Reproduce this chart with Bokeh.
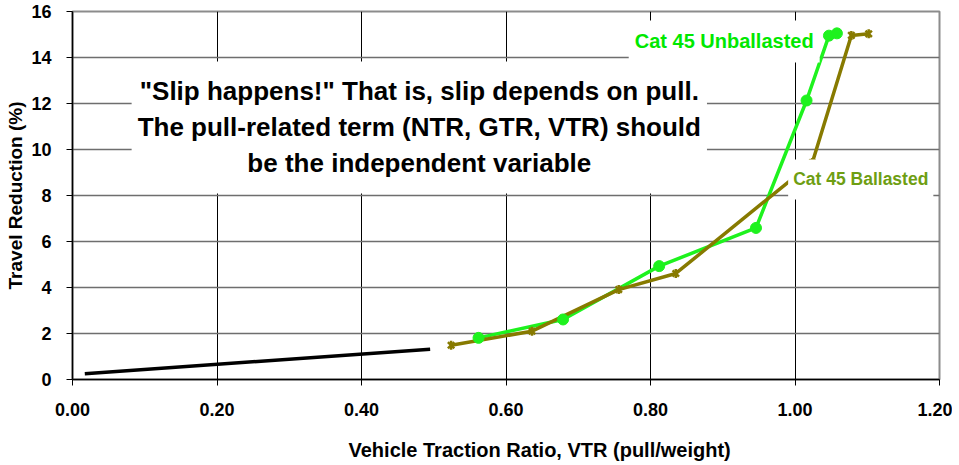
from bokeh.plotting import figure
from bokeh.models import Label, FixedTicker, NumeralTickFormatter, Range1d, Title
from bokeh.embed import file_html
from bokeh.resources import INLINE

# ---- data ----
unb_vtr = [0.562, 0.679, 0.812, 0.946, 1.016, 1.047, 1.058]
unb_tr = [1.81, 2.61, 4.93, 6.59, 12.13, 14.95, 15.05]
bal_vtr = [0.524, 0.636, 0.756, 0.835, 1.024, 1.078, 1.102]
bal_tr = [1.49, 2.10, 3.91, 4.61, 9.43, 14.96, 15.03]
ref_vtr = [0.017, 0.495]
ref_tr = [0.25, 1.32]
x_ticks = [0.0, 0.2, 0.4, 0.6, 0.8, 1.0, 1.2]
y_ticks = [0, 2, 4, 6, 8, 10, 12, 14, 16]

FONT = "Liberation Sans"
GREEN = "#1EF21E"
OLIVE = "#877A00"
OLIVE_TXT = "#6E9E12"

p = figure(width=952, height=462, output_backend="svg", toolbar_location=None,
           x_range=Range1d(0, 1.2), y_range=Range1d(0, 16),
           min_border_left=72, min_border_right=13, min_border_top=11,
           min_border_bottom=83)
p.background_fill_color = "white"
p.border_fill_color = "white"
p.outline_line_color = "#8C8C8C"
p.outline_line_width = 2

p.xaxis.ticker = FixedTicker(ticks=x_ticks)
p.yaxis.ticker = FixedTicker(ticks=y_ticks)
p.xaxis.formatter = NumeralTickFormatter(format="0.00")
for ax in (p.xaxis, p.yaxis):
    ax.axis_line_color = "black"
    ax.axis_line_width = 1.5
    ax.major_tick_line_color = "black"
    ax.major_tick_out = 6
    ax.major_tick_in = 0
    ax.minor_tick_line_color = None
    ax.major_label_text_font = FONT
    ax.major_label_text_font_style = "bold"
    ax.major_label_text_font_size = "18px"
    ax.major_label_text_color = "black"
    ax.axis_label_text_font = FONT
    ax.axis_label_text_font_style = "bold"
    ax.axis_label_text_font_size = "19px"
    ax.axis_label_text_color = "black"
p.yaxis.major_label_standoff = 15
p.xaxis.major_label_standoff = 17
p.yaxis.axis_label = "Travel Reduction (%)"
p.yaxis.axis_label_standoff = 2

p.xgrid.ticker = FixedTicker(ticks=x_ticks)
p.ygrid.ticker = FixedTicker(ticks=y_ticks)
p.xgrid.grid_line_color = "black"
p.xgrid.grid_line_width = 1
p.ygrid.grid_line_color = "#6E6E6E"
p.ygrid.grid_line_width = 1.5

# lines
p.line(ref_vtr, ref_tr, line_color="black", line_width=3.5)
p.line(unb_vtr, unb_tr, line_color=GREEN, line_width=3.5)
p.line(bal_vtr, bal_tr, line_color=OLIVE, line_width=3.5)
# markers
p.scatter(unb_vtr, unb_tr, marker="circle", size=11, fill_color=GREEN,
          line_color=GREEN)
p.scatter(bal_vtr, bal_tr, marker="x", size=9, line_color=OLIVE, line_width=2.5)
p.scatter(bal_vtr, bal_tr, marker="dash", size=9, angle=1.5708,
          line_color=OLIVE, line_width=2.5)

main_note = ("\"Slip happens!\" That is, slip depends on pull.\n"
             "The pull-related term (NTR, GTR, VTR) should\n"
             "be the independent variable")
note = Label(x=0.48, y=10.96, text=main_note, text_align="center",
             text_baseline="middle", text_font=FONT, text_font_style="bold",
             text_font_size="26px", text_color="black", text_line_height=1.2,
             background_fill_color="white", padding=(6, 15))
p.add_layout(note)

lab_unb = Label(x=0.902, y=14.7, text="Cat 45 Unballasted", text_align="center",
                text_baseline="middle", text_font=FONT, text_font_style="bold",
                text_font_size="20px", text_color="#00E800",
                background_fill_color="white", padding=(6, 10))
p.add_layout(lab_unb)

lab_bal = Label(x=1.091, y=8.7, text="Cat 45 Ballasted", text_align="center",
                text_baseline="middle", text_font=FONT, text_font_style="bold",
                text_font_size="17.5px", text_color=OLIVE_TXT,
                background_fill_color="white", padding=(5, 10))
p.add_layout(lab_bal)

x_title = Title(text="Vehicle Traction Ratio, VTR (pull/weight)", align="left",
                offset=276, standoff=0, padding=(0, 0, 18, 0), text_font=FONT,
                text_font_style="bold", text_font_size="20px", text_color="black")
p.add_layout(x_title, "below")

open("out.html", "w").write(file_html(p, INLINE))
